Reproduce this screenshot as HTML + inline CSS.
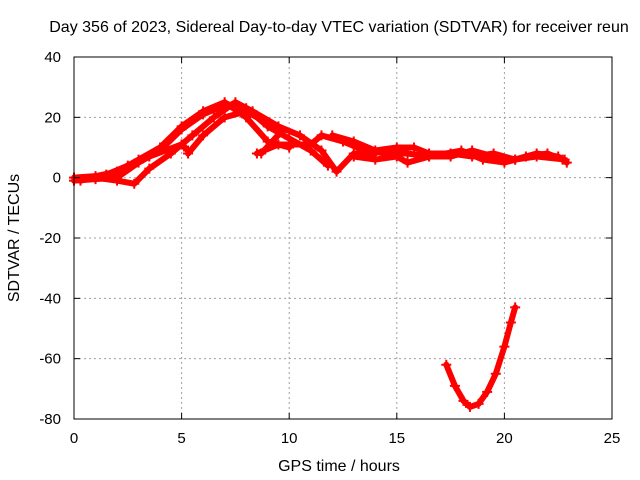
<!DOCTYPE html>
<html><head><meta charset="utf-8"><style>
body{margin:0;background:#fff}
svg{display:block;font-family:"Liberation Sans",sans-serif}
</style></head><body>
<svg id="chart" width="640" height="480">
<rect width="640" height="480" fill="#fff"/>
<g id="grid"></g><g id="series"></g><g id="axes"></g>
<text x="339" y="32" font-size="16" text-anchor="middle">Day 356 of 2023, Sidereal Day-to-day VTEC variation (SDTVAR) for receiver reun</text>
<text x="339" y="471" font-size="16" text-anchor="middle">GPS time / hours</text>
<text x="19" y="238" font-size="16" text-anchor="middle" transform="rotate(-90 19 238)">SDTVAR / TECUs</text>
</svg>
<script>
const xTicks=[0,5,10,15,20,25];
const yTicks=[40,20,0,-20,-40,-60,-80];
const trackA=[[0,0],[1,0.5],[2,2],[3,6],[4,10],[5,17],[6,22],[7,25],[8,20],[9,12],[10,10]];
const trackB=[[0,-1],[1,-0.5],[2,0],[3,5],[4,9],[5,16],[6,21],[7,24],[8,23],[9,17],[10,13],[11,9],[11.8,4]];
const trackC=[[1,0],[2,-1],[2.8,-2],[3.5,3],[4.5,8],[5.5,14],[6.5,20],[7.5,25],[8.3,22],[9.5,17],[10.5,14],[11.5,9],[12.2,2],[13,8],[14,8]];
const trackD=[[0.3,-1],[1.5,1],[2.5,4],[3.5,7],[5,11],[5.3,9]];
const trackD2=[[5.3,8],[6,14],[7,20],[8,22],[9,18],[9.6,15],[8.7,8]];
const trackE=[[8.5,8],[9.5,11],[11,11],[11.5,14],[12.5,12],[13.5,9],[14.5,8],[15.5,8],[16.5,7],[17.5,7],[18.5,9],[19.5,7],[20.5,6],[21.5,7],[22.8,6]];
const trackF=[[12,14],[13,12],[14,9],[15,10],[15.8,10],[16.5,8],[17.5,8],[18.5,7],[19.5,8],[20.5,6],[21.5,8],[22.5,7],[22.9,5]];
const trackG=[[13,7],[14,6],[15,7],[15.5,5],[16.5,7],[18,9],[19,6],[20,5],[21,7],[22,8],[22.7,6]];
const trackH=[[17.3,-62],[17.7,-69],[18.1,-74],[18.4,-76],[18.8,-75],[19.2,-71],[19.6,-65],[20,-56],[20.3,-48],[20.5,-43]];
const tracks=[trackA,trackB,trackC,trackD,trackD2,trackE,trackF,trackG,trackH];
const X0=74,X1=612,Y0=419,Y1=57;
const sx=v=>X0+(v-0)/(25-0)*(X1-X0);
const sy=v=>Y0-(v+80)/120*(Y0-Y1);
const NS="http://www.w3.org/2000/svg";
function mk(t,a,p){const e=document.createElementNS(NS,t);for(const k in a)e.setAttribute(k,a[k]);p.appendChild(e);return e;}
const grid=document.getElementById('grid'),axes=document.getElementById('axes'),ser=document.getElementById('series');
xTicks.forEach(v=>{const x=sx(v);
 if(v>0&&v<25){const g=mk('line',{x1:x,x2:x,y1:Y1,y2:Y0,stroke:'#a0a0a0','stroke-dasharray':'2,3'},grid);
 }
 mk('line',{x1:x,x2:x,y1:Y0,y2:Y0-6,stroke:'#000'},axes);mk('line',{x1:x,x2:x,y1:Y1,y2:Y1+6,stroke:'#000'},axes);
 const t=mk('text',{x:x,y:Y0+24,'font-size':15,'text-anchor':'middle'},axes);t.textContent=v;
 });
yTicks.forEach(v=>{const y=sy(v);
 if(v>-80&&v<40){const g=mk('line',{x1:X0,x2:X1,y1:y,y2:y,stroke:'#a0a0a0','stroke-dasharray':'2,3'},grid);
 }
 mk('line',{x1:X0,x2:X0+6,y1:y,y2:y,stroke:'#000'},axes);mk('line',{x1:X1,x2:X1-6,y1:y,y2:y,stroke:'#000'},axes);
 const t=mk('text',{x:X0-13,y:y+5,'font-size':15,'text-anchor':'end'},axes);t.textContent=v;
 });
const fr=mk('rect',{x:X0,y:Y1,width:X1-X0,height:Y0-Y1,fill:'none',stroke:'#000'},axes);

tracks.forEach(tr=>{
 const pl=mk('polyline',{points:tr.map(p=>sx(p[0])+','+sy(p[1])).join(' '),fill:'none',stroke:'#f00','stroke-width':6,'stroke-linejoin':'round','stroke-linecap':'round'},ser);
 
 tr.forEach(p=>{const x=sx(p[0]),y=sy(p[1]);
  const m=mk('path',{d:`M${x-5},${y}h10M${x},${y-5}v10`,stroke:'#f00','stroke-width':2},ser);
  });
});
</script>
</body></html>
